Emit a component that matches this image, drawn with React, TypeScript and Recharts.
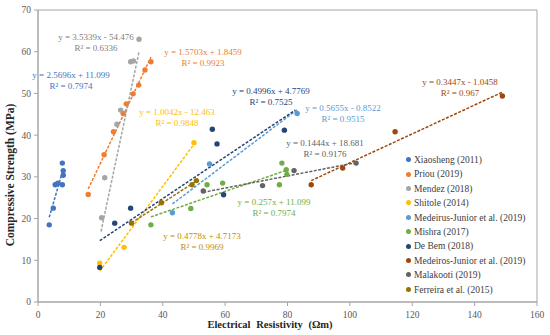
import {
  ScatterChart,
  Scatter,
  XAxis,
  YAxis,
  ReferenceArea,
  Legend,
  Customized,
} from "recharts";

// series names + Excel palette colours
const seriesNames = [
  "Xiaosheng (2011)",
  "Priou (2019)",
  "Mendez (2018)",
  "Shitole (2014)",
  "Medeirus-Junior et al. (2019)",
  "Mishra (2017)",
  "De Bem (2018)",
  "Medeiros-Junior et al. (2019)",
  "Malakooti (2019)",
  "Ferreira et al. (2015)",
];
const seriesColors = [
  "#4472C4",
  "#ED7D31",
  "#A5A5A5",
  "#FFC000",
  "#5B9BD5",
  "#70AD47",
  "#264478",
  "#9E480E",
  "#636363",
  "#997300",
];
const labelColors = [
  "#4472C4",
  "#ED7D31",
  "#7F7F7F",
  "#FFC000",
  "#5B9BD5",
  "#70AD47",
  "#264478",
  "#9E480E",
  "#636363",
  "#BF9000",
];

// values
const xiaoshengX = [3.6, 4.9, 5.5, 6.1, 6.4, 7.8, 7.8, 8.1, 8.1];
const xiaoshengY = [18.5, 22.5, 28.1, 28.3, 28.5, 28.1, 33.3, 31.5, 30.4];
const priouX = [16.1, 21.2, 24.2, 27.3, 28.3, 30.5, 32.3, 34.3, 36.2];
const priouY = [25.8, 35.3, 40.8, 45.2, 47.5, 49.9, 52.0, 55.6, 57.6];
const mendezX = [20.4, 21.4, 25.3, 26.5, 29.7, 30.6, 32.4];
const mendezY = [20.2, 29.8, 42.6, 46.0, 57.6, 57.8, 63.0];
const shitoleX = [19.8, 27.6, 50.0];
const shitoleY = [9.3, 13.1, 38.2];
const medeirusX = [43.1, 55.0, 83.1];
const medeirusY = [21.4, 33.1, 45.2];
const mishraX = [36.2, 49.0, 54.2, 59.2, 77.4, 78.2, 79.6, 79.8];
const mishraY = [18.5, 22.4, 28.1, 28.5, 28.1, 33.3, 31.7, 30.6];
const deBemX = [19.8, 24.6, 29.7, 55.9, 57.4, 59.5, 79.0];
const deBemY = [8.3, 18.9, 22.5, 41.4, 37.9, 25.7, 41.2];
const medeirosX = [87.6, 97.7, 114.5, 148.9];
const medeirosY = [28.1, 32.1, 40.8, 49.4];
const malakootiX = [53.0, 72.0, 82.1, 102.0];
const malakootiY = [26.6, 27.9, 31.5, 33.3];
const ferreiraX = [30.0, 39.6, 49.4, 50.8];
const ferreiraY = [18.9, 23.8, 28.1, 29.1];

const allX = [xiaoshengX, priouX, mendezX, shitoleX, medeirusX, mishraX, deBemX, medeirosX, malakootiX, ferreiraX];
const allY = [xiaoshengY, priouY, mendezY, shitoleY, medeirusY, mishraY, deBemY, medeirosY, malakootiY, ferreiraY];

// trendline ends: [x1, y1, x2, y2]
const trendEnds = [
  [3.6, 20.3, 8.1, 31.9],
  [16.1, 27.1, 36.2, 58.7],
  [20.2, 16.9, 32.4, 60.0],
  [19.8, 7.4, 50.0, 37.8],
  [43.1, 23.5, 83.1, 46.1],
  [36.2, 20.4, 79.8, 31.6],
  [19.8, 14.7, 82.5, 46.0],
  [87.6, 29.1, 148.9, 50.3],
  [53.0, 26.3, 102.0, 33.4],
  [30.0, 19.0, 50.8, 29.0],
];

const equations = [
  "y = 2.5696x + 11.099",
  "y = 1.5703x + 1.8459",
  "y = 3.5339x - 54.476",
  "y = 1.0042x - 12.463",
  "y = 0.5655x - 0.8522",
  "y = 0.257x + 11.099",
  "y = 0.4996x + 4.7769",
  "y = 0.3447x - 1.0458",
  "y = 0.1444x + 18.681",
  "y = 0.4778x + 4.7173",
];
const rSquared = [
  "R² = 0.7974",
  "R² = 0.9923",
  "R² = 0.6336",
  "R² = 0.9848",
  "R² = 0.9515",
  "R² = 0.7974",
  "R² = 0.7525",
  "R² = 0.967",
  "R² = 0.9176",
  "R² = 0.9969",
];

const xTicks = [0, 20, 40, 60, 80, 100, 120, 140, 160];
const yTicks = [0, 10, 20, 30, 40, 50, 60, 70];

// where the equation labels sit (pixel centre of first line)
const labelPos = [
  [71, 78],
  [203, 55],
  [96, 40],
  [177, 115],
  [343, 111],
  [274, 205],
  [271, 94],
  [460, 85],
  [325, 146],
  [202, 239],
];

const FONT = "Liberation Serif, DejaVu Serif, Noto Serif, serif";

const seriesData = allX.map((xs, i) => xs.map((x, j) => ({ x, y: allY[i][j] })));
const trendData = trendEnds.map((t) => [
  { x: t[0], y: t[1] },
  { x: t[2], y: t[3] },
]);

const renderLegend = () => (
  <div style={{ fontFamily: FONT, fontSize: 9.5, color: "#404040" }}>
    {seriesNames.map((name, i) => (
      <div key={i} style={{ height: 14.4, lineHeight: "14.4px", whiteSpace: "nowrap" }}>
        <span
          style={{
            display: "inline-block",
            width: 5,
            height: 5,
            borderRadius: "50%",
            background: seriesColors[i],
            marginRight: 3,
            verticalAlign: "middle",
            position: "relative",
            top: -1,
          }}
        />
        {name}
      </div>
    ))}
  </div>
);

const TrendLabels = () => (
  <g style={{ fontFamily: FONT, fontSize: 9 }}>
    {labelPos.map((p, i) => (
      <g key={i} fill={labelColors[i]}>
        <text x={p[0]} y={p[1]} textAnchor="middle">
          {equations[i]}
        </text>
        <text x={p[0]} y={p[1] + 11} textAnchor="middle">
          {rSquared[i]}
        </text>
      </g>
    ))}
    <text
      x={270}
      y={328}
      textAnchor="middle"
      style={{ fontFamily: FONT, fontSize: 10.5, fontWeight: "bold", wordSpacing: 3 }}
      fill="#262626"
    >
      Electrical Resistivity (Ωm)
    </text>
    <text
      x={0}
      y={0}
      transform="translate(14 175) rotate(-90)"
      textAnchor="middle"
      style={{ fontFamily: FONT, fontSize: 11.5, fontWeight: "bold" }}
      fill="#262626"
    >
      Compressive Strength (MPa)
    </text>
  </g>
);

const App = () => {
  return (
    <div style={{ position: "absolute", left: 0, top: 0, background: "#fff", fontFamily: FONT }}>
      <ScatterChart
        width={550}
        height={335}
        margin={{ top: 10, right: 13, bottom: 0, left: 0 }}
        style={{ fontFamily: FONT }}
      >
        <ReferenceArea
          x1={0}
          x2={160}
          y1={0}
          y2={70}
          fill="none"
          stroke="#a6a6a6"
          strokeWidth={1}
          ifOverflow="visible"
        />
        <XAxis
          type="number"
          dataKey="x"
          domain={[0, 160]}
          ticks={xTicks}
          height={33}
          tickSize={4}
          tickMargin={5}
          stroke="#a6a6a6"
          tick={{ fill: "#595959", fontSize: 9.5, fontFamily: FONT }}
        />
        <YAxis
          type="number"
          dataKey="y"
          domain={[0, 70]}
          ticks={yTicks}
          width={38}
          tickSize={4}
          tickMargin={3}
          stroke="#a6a6a6"
          tick={{ fill: "#595959", fontSize: 9.5, fontFamily: FONT }}
        />
        {trendData.map((d, i) => (
          <Scatter
            key={"t" + i}
            data={d}
            legendType="none"
            isAnimationActive={false}
            line={{ stroke: seriesColors[i], strokeWidth: 1.5, strokeDasharray: "3 1.5" }}
            shape={() => <g />}
          />
        ))}
        {seriesData.map((d, i) => (
          <Scatter
            key={seriesNames[i]}
            name={seriesNames[i]}
            data={d}
            fill={seriesColors[i]}
            isAnimationActive={false}
            shape={(p: any) => <circle cx={p.cx} cy={p.cy} r={2.7} fill={seriesColors[i]} />}
          />
        ))}
        <Legend
          layout="vertical"
          verticalAlign="middle"
          align="center"
          wrapperStyle={{ left: 406, top: 153, width: 140 }}
          content={renderLegend}
        />
        <Customized component={TrendLabels} />
      </ScatterChart>
    </div>
  );
};

export default App;
